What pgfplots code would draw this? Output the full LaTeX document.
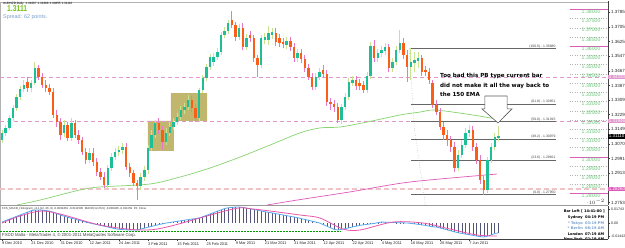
\documentclass[border=0pt]{standalone}
\usepackage{pgfplots}
\pgfplotsset{compat=1.18}
\usepackage{pgfplotstable}
\usepackage{fontspec}
\setmainfont{Liberation Sans}
\newfontfamily\dv{DejaVu Sans}
\definecolor{bullbody}{RGB}{30,190,150}
\definecolor{bearbody}{RGB}{250,95,25}
\definecolor{bullwick}{RGB}{200,228,145}
\definecolor{bearwick}{RGB}{232,120,195}
\definecolor{emagreen}{RGB}{135,212,110}
\definecolor{mapink}{RGB}{222,90,185}
\definecolor{dashpink}{RGB}{225,150,205}
\definecolor{dashrose}{RGB}{240,195,200}
\definecolor{khaki}{RGB}{192,182,110}
\definecolor{lvlgreen}{RGB}{105,200,120}
\definecolor{macdblue}{RGB}{85,170,240}
\definecolor{sigpink}{RGB}{235,85,170}
\definecolor{histcol}{RGB}{85,85,120}
\definecolor{steelb}{RGB}{120,160,210}
\definecolor{bigg}{RGB}{110,200,20}
\tikzset{fiblab/.style={anchor=south east, inner sep=0.4bp, font=\fontsize{3.4}{4}\selectfont, text=black!75},
  lvllab/.style={anchor=north, inner sep=0.3bp, font=\fontsize{5.2}{6}\selectfont, text=lvlgreen},
  clk/.style={inner sep=0, font=\dv\bfseries\fontsize{3.6}{4}\selectfont}}

\pgfplotstableread{
i o h l c
0 1.3092 1.3146 1.3075 1.3130
1 1.3130 1.3173 1.3113 1.3157
2 1.3157 1.3227 1.3146 1.3211
3 1.3211 1.3281 1.3195 1.3265
4 1.3265 1.3341 1.3249 1.3325
5 1.3325 1.3384 1.3308 1.3368
6 1.3368 1.3417 1.3352 1.3390
7 1.3406 1.3433 1.3352 1.3373
8 1.3373 1.3417 1.3352 1.3401
9 1.3401 1.3514 1.3390 1.3482
10 1.3482 1.3498 1.3417 1.3433
11 1.3433 1.3455 1.3373 1.3390
12 1.3390 1.3417 1.3352 1.3373
13 1.3373 1.3395 1.3335 1.3352
14 1.3352 1.3373 1.3211 1.3227
15 1.3227 1.3254 1.3162 1.3189
16 1.3189 1.3211 1.3092 1.3119
17 1.3130 1.3200 1.3108 1.3173
18 1.3173 1.3189 1.3086 1.3102
19 1.3102 1.3211 1.3086 1.3184
20 1.3184 1.3200 1.3102 1.3119
21 1.3119 1.3146 1.3070 1.3092
22 1.3092 1.3108 1.3010 1.3027
23 1.3027 1.3048 1.2962 1.2983
24 1.2983 1.3048 1.2967 1.3021
25 1.3021 1.3048 1.2951 1.2972
26 1.2972 1.2994 1.2896 1.2918
27 1.2918 1.2940 1.2875 1.2891
28 1.2891 1.2918 1.2831 1.2848
29 1.2848 1.2956 1.2831 1.2940
30 1.2940 1.3021 1.2924 1.2999
31 1.2999 1.3048 1.2983 1.3027
32 1.3027 1.3059 1.3005 1.3037
33 1.3037 1.3075 1.3016 1.3054
34 1.3054 1.3075 1.2929 1.2945
35 1.2945 1.2967 1.2891 1.2913
36 1.2913 1.2929 1.2842 1.2859
37 1.2859 1.2875 1.2766 1.2842
38 1.2842 1.2913 1.2821 1.2891
39 1.2891 1.2951 1.2869 1.2929
40 1.2929 1.3064 1.2907 1.3048
41 1.3048 1.3146 1.3032 1.3119
42 1.3119 1.3200 1.3102 1.3184
43 1.3184 1.3211 1.3124 1.3146
44 1.3146 1.3167 1.3037 1.3081
45 1.3081 1.3157 1.3064 1.3130
46 1.3130 1.3189 1.3113 1.3162
47 1.3162 1.3211 1.3146 1.3189
48 1.3189 1.3238 1.3173 1.3216
49 1.3216 1.3276 1.3200 1.3254
50 1.3254 1.3292 1.3232 1.3270
51 1.3270 1.3335 1.3254 1.3308
52 1.3308 1.3330 1.3243 1.3265
53 1.3265 1.3287 1.3189 1.3211
54 1.3211 1.3373 1.3189 1.3363
55 1.3363 1.3444 1.3346 1.3428
56 1.3428 1.3504 1.3411 1.3487
57 1.3487 1.3558 1.3471 1.3541
58 1.3514 1.3563 1.3493 1.3541
59 1.3541 1.3590 1.3525 1.3569
60 1.3569 1.3677 1.3552 1.3661
61 1.3661 1.3704 1.3644 1.3682
62 1.3682 1.3742 1.3666 1.3726
63 1.3742 1.3791 1.3699 1.3715
64 1.3715 1.3731 1.3628 1.3650
65 1.3650 1.3720 1.3634 1.3699
66 1.3699 1.3726 1.3579 1.3596
67 1.3596 1.3666 1.3579 1.3644
68 1.3661 1.3682 1.3623 1.3644
69 1.3644 1.3661 1.3514 1.3536
70 1.3536 1.3552 1.3433 1.3498
71 1.3498 1.3661 1.3482 1.3644
72 1.3634 1.3672 1.3612 1.3650
73 1.3634 1.3710 1.3607 1.3672
74 1.3661 1.3699 1.3639 1.3677
75 1.3672 1.3699 1.3601 1.3623
76 1.3644 1.3666 1.3596 1.3617
77 1.3623 1.3644 1.3590 1.3612
78 1.3607 1.3650 1.3585 1.3628
79 1.3628 1.3650 1.3574 1.3596
80 1.3596 1.3617 1.3514 1.3536
81 1.3536 1.3585 1.3514 1.3563
82 1.3563 1.3585 1.3509 1.3531
83 1.3531 1.3552 1.3460 1.3482
84 1.3482 1.3504 1.3417 1.3433
85 1.3433 1.3455 1.3363 1.3379
86 1.3379 1.3455 1.3363 1.3433
87 1.3433 1.3482 1.3417 1.3460
88 1.3471 1.3498 1.3428 1.3449
89 1.3449 1.3471 1.3276 1.3298
90 1.3298 1.3319 1.3254 1.3287
91 1.3287 1.3308 1.3243 1.3270
92 1.3270 1.3292 1.3184 1.3200
93 1.3200 1.3287 1.3178 1.3270
94 1.3270 1.3346 1.3254 1.3325
95 1.3325 1.3428 1.3308 1.3406
96 1.3401 1.3438 1.3384 1.3417
97 1.3417 1.3438 1.3363 1.3384
98 1.3401 1.3422 1.3363 1.3384
99 1.3390 1.3411 1.3346 1.3363
100 1.3363 1.3460 1.3346 1.3438
101 1.3438 1.3623 1.3422 1.3601
102 1.3601 1.3634 1.3514 1.3536
103 1.3536 1.3585 1.3514 1.3563
104 1.3563 1.3601 1.3541 1.3579
105 1.3574 1.3617 1.3552 1.3596
106 1.3596 1.3612 1.3460 1.3482
107 1.3482 1.3536 1.3460 1.3514
108 1.3514 1.3601 1.3498 1.3579
109 1.3579 1.3688 1.3563 1.3617
110 1.3617 1.3644 1.3531 1.3552
111 1.3552 1.3579 1.3406 1.3487
112 1.3487 1.3588 1.3417 1.3514
113 1.3509 1.3569 1.3460 1.3525
114 1.3520 1.3569 1.3482 1.3536
115 1.3536 1.3552 1.3438 1.3460
116 1.3471 1.3493 1.3438 1.3460
117 1.3460 1.3482 1.3395 1.3417
118 1.3401 1.3417 1.3265 1.3281
119 1.3281 1.3308 1.3227 1.3243
120 1.3243 1.3265 1.3146 1.3162
121 1.3162 1.3189 1.3092 1.3119
122 1.3119 1.3146 1.3059 1.3092
123 1.3092 1.3113 1.3027 1.3054
124 1.3054 1.3081 1.2918 1.2940
125 1.2940 1.3037 1.2924 1.3010
126 1.3010 1.3092 1.2994 1.3064
127 1.3064 1.3157 1.3048 1.3130
128 1.3130 1.3173 1.3108 1.3146
129 1.3146 1.3167 1.3032 1.3054
130 1.3054 1.3075 1.2962 1.2983
131 1.2983 1.3010 1.2853 1.2875
132 1.2875 1.2896 1.2795 1.2821
133 1.2821 1.2999 1.2804 1.2983
134 1.2983 1.3075 1.2967 1.3054
135 1.3054 1.3130 1.3037 1.3108
136 1.31067 1.31688 1.30855 1.31110
}\candles

\pgfplotstableread{
i m
0 0.0012
1 0.0030
2 0.0048
3 0.0065
4 0.0083
5 0.0100
6 0.0118
7 0.0135
8 0.0153
9 0.0162
10 0.0162
11 0.0160
12 0.0155
13 0.0149
14 0.0135
15 0.0118
16 0.0100
17 0.0085
18 0.0072
19 0.0060
20 0.0048
21 0.0036
22 0.0024
23 0.0012
24 0.0000
25 -0.0010
26 -0.0020
27 -0.0030
28 -0.0040
29 -0.0050
30 -0.0060
31 -0.0072
32 -0.0078
33 -0.0082
34 -0.0085
35 -0.0087
36 -0.0088
37 -0.0087
38 -0.0075
39 -0.0065
40 -0.0053
41 -0.0042
42 -0.0031
43 -0.0020
44 -0.0010
45 0.0000
46 0.0007
47 0.0014
48 0.0021
49 0.0028
50 0.0035
51 0.0042
52 0.0049
53 0.0055
54 0.0062
55 0.0078
56 0.0095
57 0.0112
58 0.0129
59 0.0146
60 0.0163
61 0.0180
62 0.0190
63 0.0195
64 0.0199
65 0.0199
66 0.0193
67 0.0185
68 0.0176
69 0.0168
70 0.0160
71 0.0150
72 0.0140
73 0.0133
74 0.0125
75 0.0116
76 0.0108
77 0.0100
78 0.0092
79 0.0083
80 0.0075
81 0.0066
82 0.0055
83 0.0044
84 0.0033
85 0.0022
86 0.0011
87 0.0000
88 -0.0020
89 -0.0040
90 -0.0060
91 -0.0080
92 -0.0087
93 -0.0080
94 -0.0070
95 -0.0060
96 -0.0050
97 -0.0040
98 -0.0030
99 -0.0023
100 -0.0017
101 -0.0011
102 -0.0005
103 0.0005
104 0.0012
105 0.0010
106 0.0008
107 0.0007
108 0.0005
109 0.0003
110 0.0002
111 0.0000
112 -0.0005
113 -0.0010
114 -0.0017
115 -0.0023
116 -0.0030
117 -0.0039
118 -0.0047
119 -0.0050
120 -0.0062
121 -0.0074
122 -0.0086
123 -0.0098
124 -0.0110
125 -0.0122
126 -0.0130
127 -0.0138
128 -0.0146
129 -0.0154
130 -0.0162
131 -0.0170
132 -0.0174
133 -0.0165
134 -0.0150
135 -0.0130
136 -0.0125
}\macd

\begin{document}
\begin{tikzpicture}[x=1bp,y=1bp]
\fill[white] (0bp,0bp) rectangle (625bp,248bp);
\begin{axis}[at={(0bp,43bp)}, anchor=south west, scale only axis,
  width=608bp, height=204bp,
  xmin=-0.548, xmax=166.03, ymin=1.27393, ymax=1.38450, clip=false,
  axis x line=none, axis y line*=right,
  y axis line style={-, draw=black!75, line width=0.7bp},
  ytick={1.27530,1.28320,1.29130,1.29910,1.30700,1.31490,1.32290,1.33090,1.33870,1.34670,1.35470,1.36250,1.37050,1.37850},
  yticklabels={1.27530,{},1.29130,1.29910,1.30700,1.31490,1.32290,1.33090,1.33870,1.34670,1.35470,1.36250,1.37050,1.37850},
  yticklabel style={font=\fontsize{4.5}{5}\selectfont, text=black!85, inner sep=1bp},
  tick align=outside, major tick length=2bp,
  ytick style={draw=black!75, line width=0.4bp},
]
\draw[gray!60, line width=0.6bp] (rel axis cs:0.0005,0) -- (rel axis cs:0.0005,0.995) -- (rel axis cs:1,0.995);
% olive rectangles
\addplot[draw=none, fill=khaki] coordinates {(40,1.3195) (47.1,1.3195) (47.1,1.3032) (40,1.3032) (40,1.3195)};
\addplot[draw=none, fill=khaki] coordinates {(46.3,1.3346) (56.2,1.3346) (56.2,1.3195) (46.3,1.3195) (46.3,1.3346)};
% pink dashed horizontal lines
\addplot[dashpink, line width=0.8bp, dash pattern=on 4bp off 3bp] coordinates {(-0.548,1.3433) (166.03,1.3433)};
\addplot[dashpink, line width=0.8bp, dash pattern=on 4bp off 3bp] coordinates {(-0.548,1.3195) (166.03,1.3195)};
\addplot[dashrose, line width=1.6bp, dash pattern=on 5bp off 3bp] coordinates {(-0.548,1.2826) (166.03,1.2826)};
% fibonacci
\pgfplotsinvokeforeach{1.35880,1.32851,1.31915,1.30979,1.29821,1.27950}{
  \addplot[gray!80!black, line width=0.6bp] coordinates {(112,#1) (151.8,#1)};
}
\addplot[gray!70, line width=0.5bp, dotted] coordinates {(111.6,1.3588) (113,1.3150) (116,1.27393)};
\foreach \lv/\lab in {1.35880/(100.0) - 1.35880, 1.32851/(61.8) - 1.32851, 1.31915/(50.0) - 1.31915, 1.30979/(38.2) - 1.30979, 1.29821/(23.6) - 1.29821, 1.27950/(0.0) - 1.27950}{
  \edef\tmp{\noexpand\node[fiblab] at (axis cs:151.8,\lv) {\lab};}\tmp
}
% level labels column
\pgfplotsinvokeforeach{1.375,1.370,1.365,1.355,1.350,1.345,1.340,1.335,1.330,1.325,1.320,1.315,1.310,1.305,1.295,1.290,1.285}{
  \addplot[gray!60, line width=0.4bp, dotted] coordinates {(155.6,#1) (166.03,#1)};
}
\pgfplotsinvokeforeach{1.380,1.360,1.300,1.280}{
  \addplot[mapink, line width=0.7bp] coordinates {(155.6,#1) (166.03,#1)};
}
\foreach \lv/\lab in {1.380/1.38000,1.375/1.37500,1.370/1.37000,1.365/1.36500,1.360/1.36000,1.355/1.35500,1.350/1.35000,1.345/1.34500,1.340/1.34000,1.335/1.33500,1.330/1.33000,1.325/1.32500,1.320/1.32000,1.315/1.31500,1.310/1.31000,1.305/1.30500,1.300/1.30000,1.295/1.29500,1.290/1.29000,1.285/1.28500,1.280/1.28000}{
  \edef\tmp{\noexpand\node[lvllab] at (axis cs:161.4,\lv) {\lab};}\tmp
}
% moving averages
\addplot[emagreen, line width=0.7bp, smooth] coordinates {(4,1.2739) (10.4,1.2766) (21.4,1.2821) (26.8,1.2837) (40.5,1.2853) (48.8,1.2891) (57.0,1.2940) (65.2,1.2999) (73.4,1.3064) (81.6,1.3130) (87.1,1.3157) (92.6,1.3162) (100.0,1.3189) (109.0,1.3227) (114.5,1.3243) (118.6,1.3254) (127.4,1.3232) (135.6,1.3205)};
\addplot[mapink, line width=0.7bp, smooth] coordinates {(72.6,1.2739) (80.8,1.2766) (95.3,1.2810) (111.8,1.2864) (135.6,1.2907)};
% wicks
\addplot[draw=none, mark=none, restrict expr to domain={\thisrow{c}-\thisrow{o}}{0:1}, error bars/.cd, y dir=both, y explicit, error mark=none, error bar style={draw=bullwick, line width=0.9bp}]
  table[x=i, y expr={(\thisrow{h}+\thisrow{l})/2}, y error expr={(\thisrow{h}-\thisrow{l})/2}]{\candles};
\addplot[draw=none, mark=none, restrict expr to domain={\thisrow{c}-\thisrow{o}}{-1:0}, error bars/.cd, y dir=both, y explicit, error mark=none, error bar style={draw=bearwick, line width=0.9bp}]
  table[x=i, y expr={(\thisrow{h}+\thisrow{l})/2}, y error expr={(\thisrow{h}-\thisrow{l})/2}]{\candles};
% bodies
\addplot[draw=none, mark=none, restrict expr to domain={\thisrow{c}-\thisrow{o}}{0:1}, error bars/.cd, y dir=both, y explicit, error mark=none, error bar style={draw=bullbody, line width=2.4bp}]
  table[x=i, y expr={(\thisrow{o}+\thisrow{c})/2}, y error expr={abs(\thisrow{c}-\thisrow{o})/2}]{\candles};
\addplot[draw=none, mark=none, restrict expr to domain={\thisrow{c}-\thisrow{o}}{-1:0}, error bars/.cd, y dir=both, y explicit, error mark=none, error bar style={draw=bearbody, line width=2.4bp}]
  table[x=i, y expr={(\thisrow{o}+\thisrow{c})/2}, y error expr={abs(\thisrow{c}-\thisrow{o})/2}]{\candles};
% annotation arrow
\addplot[draw=black!65, line width=0.6bp, fill=white] coordinates {(132.3,1.3330) (138.4,1.3330) (138.4,1.3260) (139.7,1.3260) (135.9,1.3184) (131.5,1.3260) (132.3,1.3260) (132.3,1.3330)};
\node[anchor=north west, inner sep=0, align=left, font=\dv\bfseries\fontsize{5.6}{9.5}\selectfont] at (axis cs:120,1.3452) {Too bad this PB type current bar\\did not make it all the way back to\\the 150 EMA};
% right axis highlight boxes
\node[anchor=west, fill=dashpink, text=white, inner sep=0.7bp, font=\fontsize{4.5}{5}\selectfont] at (axis cs:166.03,1.3433) {1.34330};
\node[anchor=west, fill=dashpink, text=white, inner sep=0.7bp, font=\fontsize{4.5}{5}\selectfont] at (axis cs:166.03,1.3195) {1.31946};
\node[anchor=west, fill=black, text=white, inner sep=0.7bp, font=\fontsize{4.5}{5}\selectfont] at (axis cs:166.03,1.3111) {1.31110};
\node[anchor=west, fill=mapink, text=white, inner sep=0.7bp, font=\fontsize{4.5}{5}\selectfont] at (axis cs:166.03,1.2826) {1.28260};
\end{axis}

% MACD panel
\begin{axis}[at={(0bp,9bp)}, anchor=south west, scale only axis,
  width=608bp, height=33bp,
  xmin=-0.548, xmax=166.03, ymin=-0.01992, ymax=0.02117, clip=false,
  axis x line*=bottom, axis y line*=right,
  axis line style={-, draw=black!75, line width=0.7bp},
  xtick={0,8,16,24,32,40,48,56,64,72,80,88,96,104,112,120,128},
  xticklabels={9 Dec 2010,21 Dec 2010,31 Dec 2010,12 Jan 2011,24 Jan 2011,3 Feb 2011,15 Feb 2011,25 Feb 2011,9 Mar 2011,21 Mar 2011,31 Mar 2011,12 Apr 2011,22 Apr 2011,4 May 2011,16 May 2011,26 May 2011,7 Jun 2011},
  xticklabel style={anchor=north west, inner xsep=0, inner ysep=1bp, font=\fontsize{3.9}{4.5}\selectfont, text=black!85},
  ytick={-0.0160,0,0.01743}, yticklabels={-0.01442,0.00,0.01743},
  yticklabel style={font=\fontsize{3.6}{4}\selectfont, text=black!85, inner sep=1bp},
  tick align=outside, major tick length=2bp,
  tick style={draw=black!75, line width=0.4bp},
]
\draw[gray!60, line width=0.6bp] (rel axis cs:0.0005,0) -- (rel axis cs:0.0005,1);
\addplot[green!60!black, line width=0.5bp, densely dotted] coordinates {(-0.548,-0.0100) (92.6,-0.0100)};
\addplot[ycomb, histcol, line width=0.5bp, mark=none] table[x=i, y=m]{\macd};
\addplot[macdblue, line width=0.8bp, smooth, mark=none] table[x=i, y=m]{\macd};
\addplot[sigpink, line width=0.8bp, smooth, mark=none] coordinates {(0,0) (11.2,0.0149) (26.8,-0.0025) (37.8,-0.0087) (45.2,-0.0050) (63.3,0.0174) (68.8,0.0174) (81.6,0.0100) (87.1,0.0062) (93.4,-0.0075) (98.1,-0.0087) (107.1,0.0012) (115.3,0) (122.7,-0.0075) (130.1,-0.0149) (135.6,-0.0162)};
\end{axis}

% separator between panels
\draw[gray!80, line width=1.4bp] (0bp,42.3bp) -- (608bp,42.3bp);

% top-left texts
\node[anchor=north west, inner sep=0, font=\fontsize{3.1}{3.5}\selectfont] at (3bp,246bp) {AUDNZD,Daily\ \ 1.31067 1.31688 1.30855 1.31110};
\node[anchor=north west, inner sep=0, font=\bfseries\fontsize{8.5}{9}\selectfont, text=bigg] at (7bp,243bp) {\scalebox{0.8}[1]{1.3111}};
\node[anchor=north west, inner sep=0, font=\fontsize{5.4}{6}\selectfont, text=steelb] at (3bp,234bp) {Spread: 62 points.};

% MACD texts
\node[anchor=north west, inner sep=0, font=\fontsize{2.9}{3.4}\selectfont, text=black!80] at (2bp,40.5bp) {FXS\_MACD\_Histogram\_v1.1(12, 26, 9) -0.0090461 -0.0111595\ \ MACD(12,26,9) -0.009046 -0.011159\ \ P4, Close};
\node[anchor=south west, inner sep=0, font=\fontsize{4.3}{5}\selectfont, text=black!75] at (2bp,10.2bp) {FXDD Malta - MetaTrader 4, \textcopyright\ 2001-2011 MetaQuotes Software Corp.};

% clock
\begin{scope}
\clip (540bp,9.5bp) rectangle (607bp,42bp);
\node[clk, anchor=base east] at (605bp,36bp) {Bar Left [ 14:41:00 ]};
\node[clk, anchor=base east] at (583bp,29.5bp) {Sydney};
\node[clk, anchor=base west] at (585bp,29.5bp) {04:19 PM};
\node[clk, anchor=base east, text=steelb] at (583bp,24bp) {* Tokyo};
\node[clk, anchor=base west, text=steelb] at (585bp,24bp) {03:19 PM};
\node[clk, anchor=base east, text=steelb] at (583bp,18.5bp) {* Berlin};
\node[clk, anchor=base west, text=steelb] at (585bp,18.5bp) {08:19 AM};
\node[clk, anchor=base east] at (583bp,13bp) {London};
\node[clk, anchor=base west] at (585bp,13bp) {07:19 AM};
\node[clk, anchor=base east] at (583bp,7.5bp) {New York};
\node[clk, anchor=base west] at (585bp,7.5bp) {02:19 AM};
\end{scope}

\pgfresetboundingbox
\path (0bp,0bp) rectangle (625bp,248bp);
\end{tikzpicture}
\end{document}
